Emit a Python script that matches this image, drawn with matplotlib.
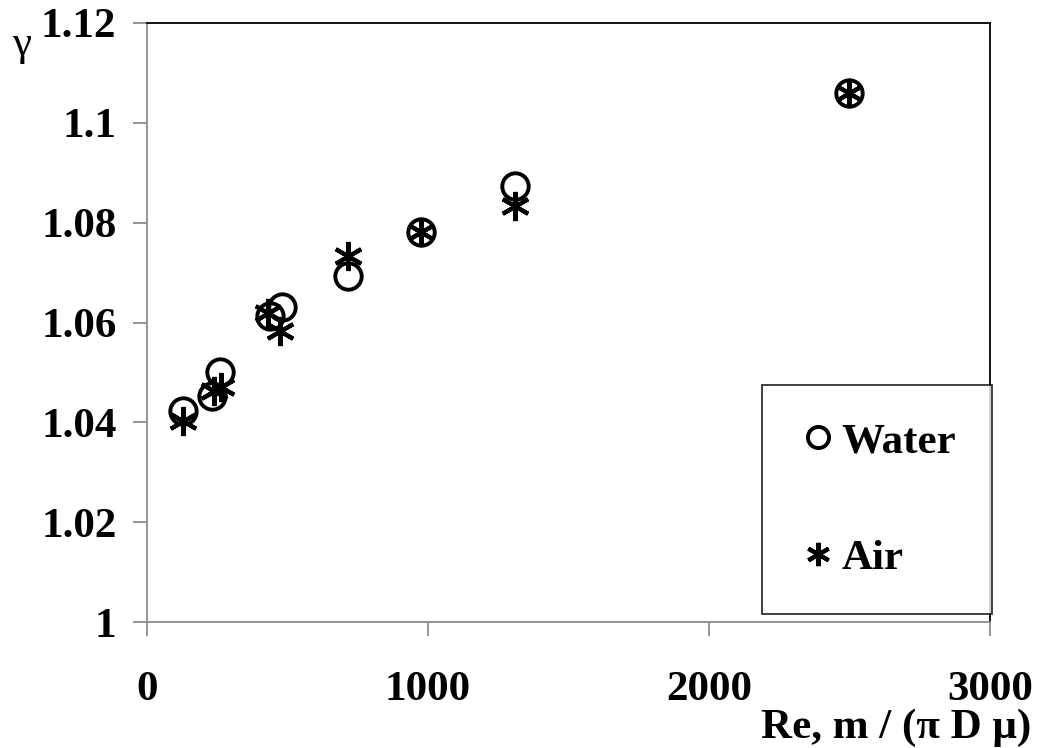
import matplotlib
matplotlib.use('Agg')
import matplotlib.pyplot as plt

plt.rcParams['font.family'] = ['Liberation Serif', 'DejaVu Serif']

# gamma vs Reynolds number for the two fluids
re_water = [127, 230, 260, 438, 479, 715, 975, 1310, 2500]
gamma_water = [1.0422, 1.0452, 1.0500, 1.0614, 1.0632, 1.0694, 1.0781, 1.0873, 1.1060]
re_air = [127, 240, 262, 431, 473, 715, 975, 1310, 2500]
gamma_air = [1.0403, 1.0462, 1.0470, 1.0620, 1.0582, 1.0734, 1.0781, 1.0833, 1.1060]

x_ticks = [0, 1000, 2000, 3000]
y_ticks = [1, 1.02, 1.04, 1.06, 1.08, 1.1, 1.12]
y_ticklabels = ['1', '1.02', '1.04', '1.06', '1.08', '1.1', '1.12']

fs = 31

fig = plt.figure(figsize=(10.39, 7.48), dpi=100)
ax = fig.add_axes([0.1415, 0.1684, 0.8113, 0.8009])

ax.plot(re_water, gamma_water, linestyle='none', marker='o', markersize=19,
        markerfacecolor='none', markeredgecolor='black', markeredgewidth=2.8,
        label='Water')
ax.plot(re_air, gamma_air, linestyle='none', marker=(6, 2, 0), markersize=21,
        markeredgecolor='black', markeredgewidth=3.0, color='black', label='Air')

ax.set_xlim(0, 3000)
ax.set_ylim(1, 1.12)
ax.set_xticks(x_ticks)
ax.set_xticklabels([str(t) for t in x_ticks])
ax.set_yticks(y_ticks)
ax.set_yticklabels(y_ticklabels)

for lab in ax.get_xticklabels() + ax.get_yticklabels():
    lab.set_fontweight('bold')
    lab.set_fontsize(fs)

ax.tick_params(axis='both', direction='out', color='#8c8c8c', width=1.3, length=10)
ax.tick_params(axis='x', pad=25)
ax.tick_params(axis='y', pad=12)

for side in ('left', 'bottom'):
    ax.spines[side].set_color('#8c8c8c')
    ax.spines[side].set_linewidth(1.3)
for side in ('top', 'right'):
    ax.spines[side].set_color('black')
    ax.spines[side].set_linewidth(1.3)

leg = ax.legend(loc='lower right', bbox_to_anchor=(1.003, 0.013), frameon=True,
                fancybox=False, edgecolor='black', borderpad=0.85, labelspacing=1.8,
                handletextpad=0.1, handlelength=0.9, borderaxespad=0,
                prop={'weight': 'bold', 'size': fs}, markerscale=0.8)
leg.get_frame().set_linewidth(1.3)

fig.text(0.012, 0.94, 'γ', fontsize=fs, ha='left', va='center')
fig.text(0.993, 0.027, 'Re, m / (π D μ)', fontsize=fs, fontweight='bold',
         ha='right', va='center')

fig.savefig('out.png', dpi=100)
